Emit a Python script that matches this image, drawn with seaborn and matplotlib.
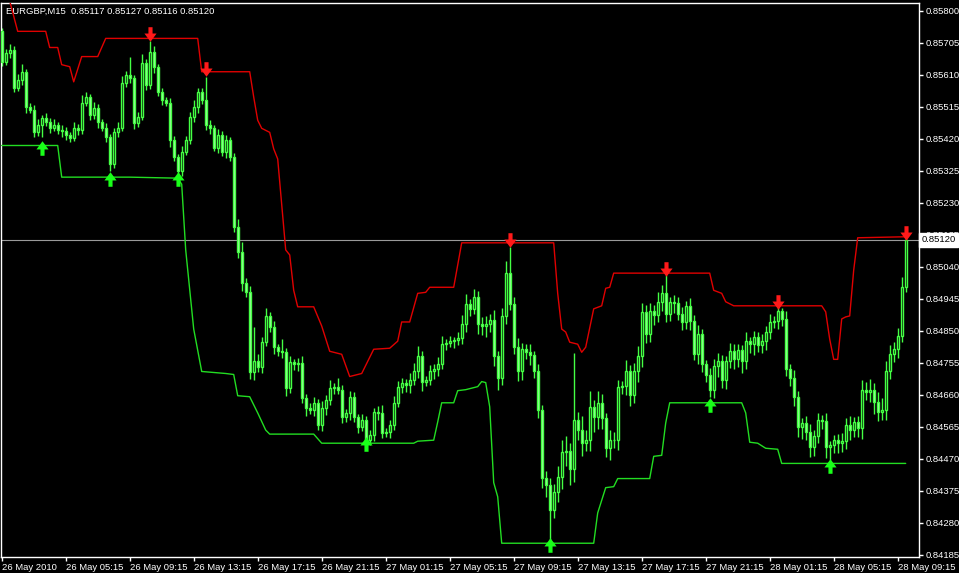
import numpy as np
import pandas as pd
import matplotlib
matplotlib.use("Agg")
import matplotlib.pyplot as plt
import matplotlib.transforms as mtransforms
from matplotlib.path import Path
import seaborn as sns

sns.set_style("dark", {"axes.facecolor": "black", "figure.facecolor": "black",
                       "axes.edgecolor": "white", "xtick.color": "white",
                       "ytick.color": "white", "text.color": "white"})
plt.rcParams['font.family'] = ['Liberation Sans', 'DejaVu Sans']

# EURGBP M15 candles, prices in points (1e-5)
first_open_pts = 85739
close_pts = [85649, 85676, 85685, 85571, 85595, 85619, 85514, 85505, 85439, 85460,
             85481, 85469, 85451, 85460, 85445, 85442, 85430, 85421, 85451, 85445,
             85526, 85544, 85490, 85511, 85469, 85451, 85424, 85345, 85439, 85451,
             85586, 85610, 85601, 85466, 85484, 85646, 85580, 85679, 85634, 85559,
             85535, 85526, 85415, 85366, 85324, 85381, 85415, 85484, 85514, 85559,
             85535, 85460, 85451, 85394, 85430, 85381, 85415, 85366, 85159, 85084,
             84991, 84964, 84726, 84759, 84741, 84816, 84894, 84861, 84801, 84789,
             84786, 84681, 84756, 84750, 84753, 84651, 84621, 84615, 84636, 84570,
             84621, 84645, 84681, 84684, 84675, 84594, 84606, 84654, 84594, 84564,
             84585, 84525, 84540, 84609, 84606, 84546, 84549, 84570, 84636, 84684,
             84696, 84690, 84705, 84729, 84774, 84699, 84705, 84729, 84735, 84750,
             84810, 84813, 84819, 84822, 84828, 84870, 84930, 84915, 84949, 84870,
             84864, 84870, 84882, 84774, 84711, 84894, 85021, 84930, 84801, 84729,
             84795, 84786, 84777, 84729, 84615, 84414, 84393, 84318, 84372, 84417,
             84489, 84492, 84438, 84585, 84555, 84516, 84525, 84624, 84594, 84636,
             84591, 84501, 84525, 84525, 84684, 84687, 84729, 84660, 84729, 84774,
             84906, 84840, 84909, 84897, 84936, 84961, 84900, 84936, 84933, 84900,
             84876, 84924, 84879, 84780, 84840, 84750, 84720, 84675, 84744, 84759,
             84705, 84759, 84789, 84765, 84792, 84759, 84819, 84810, 84831, 84807,
             84819, 84846, 84876, 84879, 84909, 84885, 84735, 84711, 84654, 84564,
             84576, 84549, 84504, 84537, 84585, 84582, 84504, 84510, 84525, 84516,
             84522, 84570, 84555, 84579, 84561, 84675, 84669, 84675, 84639, 84609,
             84615, 84729, 84780, 84795, 84834, 84979, 85120]
upper_wick_pts = [9, 12, 15, 9, 18, 24, 9, 12, 15, 18,
                  9, 15, 12, 18, 9, 15, 12, 9, 18, 12,
                  24, 15, 9, 18, 12, 9, 15, 9, 12, 18,
                  21, 12, 54, 9, 15, 27, 12, 30, 15, 9,
                  12, 9, 15, 12, 9, 18, 12, 15, 21, 12,
                  12, 69, 15, 9, 18, 12, 15, 9, 12, 24,
                  30, 15, 18, 102, 21, 15, 24, 12, 18, 9,
                  36, 12, 18, 9, 15, 21, 12, 15, 18, 12,
                  21, 15, 24, 12, 27, 15, 12, 18, 15, 9,
                  18, 12, 15, 12, 18, 24, 12, 15, 21, 18,
                  15, 12, 18, 24, 30, 15, 12, 18, 15, 21,
                  24, 12, 15, 9, 18, 27, 30, 15, 24, 18,
                  21, 24, 18, 30, 15, 24, 36, 78, 21, 27,
                  18, 15, 24, 12, 21, 15, 18, 21, 24, 30,
                  36, 45, 24, 200, 24, 42, 30, 48, 21, 36,
                  27, 15, 30, 24, 21, 15, 33, 18, 24, 30,
                  27, 21, 24, 18, 30, 24, 54, 15, 21, 18,
                  21, 15, 24, 18, 27, 15, 12, 18, 21, 24,
                  18, 15, 24, 21, 18, 15, 27, 12, 18, 15,
                  21, 18, 24, 15, 15, 9, 24, 15, 21, 18,
                  15, 21, 24, 18, 21, 15, 24, 12, 15, 18,
                  24, 21, 27, 15, 18, 30, 24, 33, 21, 30,
                  36, 30, 27, 21, 24, 30, 6]
lower_wick_pts = [12, 9, 15, 12, 9, 15, 18, 9, 15, 12,
                  36, 12, 15, 9, 12, 18, 15, 12, 9, 15,
                  12, 9, 15, 12, 18, 9, 15, 21, 12, 15,
                  9, 12, 15, 18, 12, 9, 15, 12, 18, 12,
                  15, 9, 18, 12, 12, 15, 9, 12, 15, 18,
                  12, 15, 18, 9, 15, 12, 18, 12, 15, 18,
                  24, 15, 18, 21, 15, 18, 12, 15, 21, 15,
                  18, 24, 15, 18, 21, 15, 24, 12, 18, 15,
                  18, 21, 15, 18, 12, 18, 15, 21, 15, 18,
                  12, 9, 15, 18, 21, 15, 12, 18, 15, 12,
                  18, 21, 24, 15, 18, 27, 12, 15, 21, 18,
                  15, 18, 12, 21, 15, 18, 24, 21, 15, 30,
                  27, 33, 24, 30, 36, 21, 24, 18, 21, 27,
                  24, 21, 30, 18, 24, 30, 36, 90, 24, 30,
                  36, 42, 45, 36, 30, 39, 24, 33, 45, 36,
                  33, 27, 36, 24, 30, 21, 27, 33, 24, 30,
                  33, 27, 24, 30, 21, 27, 24, 21, 30, 18,
                  24, 21, 27, 18, 30, 24, 21, 21, 24, 30,
                  24, 27, 21, 30, 24, 36, 24, 27, 33, 21,
                  24, 27, 21, 18, 24, 21, 18, 24, 27, 30,
                  36, 24, 30, 27, 21, 24, 33, 39, 24, 30,
                  27, 24, 30, 21, 27, 33, 24, 30, 36, 27,
                  24, 30, 21, 24, 27, 18, 15]

# channel lines (bar index, points)
red_bars = [2, 4, 11, 12, 14, 15, 17, 18, 20, 24, 26, 49, 50, 62, 63, 64, 65, 67, 68, 69,
            70, 71, 72, 73, 74, 78, 80, 82, 85, 87, 90, 93, 97, 99, 100, 102, 104, 106, 107, 113,
            115, 138, 139, 140, 141, 142, 144, 145, 146, 148, 150, 151, 152, 153, 177, 178, 180, 181, 183, 205,
            206, 207, 208, 209, 210, 211, 212, 213, 214, 226]
red_pts = [85829, 85739, 85739, 85691, 85691, 85640, 85634, 85589, 85664, 85664, 85718, 85718, 85619, 85619, 85544, 85475, 85451, 85439, 85390, 85360,
           85225, 85090, 85075, 84970, 84921, 84921, 84864, 84789, 84780, 84714, 84723, 84795, 84798, 84819, 84876, 84876, 84961, 84964, 84979, 84979,
           85111, 85111, 84961, 84855, 84846, 84816, 84810, 84786, 84801, 84915, 84924, 84976, 84979, 85021, 85021, 84970, 84961, 84936, 84924, 84924,
           84906, 84825, 84765, 84765, 84885, 84891, 84894, 85030, 85126, 85129]
green_bars = [0, 14, 15, 32, 44, 45, 46, 48, 50, 56, 58, 59, 62, 64, 66, 67, 78, 80, 103, 104,
              108, 109, 110, 113, 114, 116, 119, 120, 121, 122, 123, 124, 125, 148, 149, 151, 153, 154, 162, 163,
              165, 166, 167, 185, 186, 187, 189, 191, 194, 195, 226]
green_pts = [85400, 85400, 85306, 85306, 85303, 85285, 85090, 84855, 84729, 84723, 84720, 84657, 84654, 84606, 84555, 84543, 84543, 84516, 84516, 84522,
             84525, 84579, 84636, 84636, 84672, 84675, 84684, 84699, 84696, 84624, 84399, 84357, 84219, 84219, 84309, 84384, 84387, 84411, 84411, 84477,
             84480, 84576, 84636, 84636, 84606, 84519, 84516, 84501, 84498, 84456, 84456]

sell_bars = [37, 51, 127, 166, 194, 226]
sell_pts = [85730, 85628, 85120, 85033, 84936, 85141]
buy_bars = [10, 27, 44, 91, 137, 177, 207]
buy_pts = [85394, 85300, 85300, 84513, 84213, 84630, 84447]

ytick_labels = ["0.85800", "0.85705", "0.85610", "0.85515", "0.85420", "0.85325",
                "0.85230", "0.85135", "0.85040", "0.84945", "0.84850", "0.84755",
                "0.84660", "0.84565", "0.84470", "0.84375", "0.84280", "0.84185"]
xtick_bars = [0, 16, 32, 48, 64, 80, 96, 112, 128, 144, 160, 176, 192, 208, 224]
xtick_labels = ["26 May 2010", "26 May 05:15", "26 May 09:15", "26 May 13:15",
                "26 May 17:15", "26 May 21:15", "27 May 01:15", "27 May 05:15",
                "27 May 09:15", "27 May 13:15", "27 May 17:15", "27 May 21:15",
                "28 May 01:15", "28 May 05:15", "28 May 09:15"]
title = "EURGBP,M15  0.85117 0.85127 0.85116 0.85120"
last_price = 0.85120

pt = 1e-5
close = np.array(close_pts) * pt
open_ = np.concatenate([[first_open_pts * pt], close[:-1]])
df = pd.DataFrame({"bar": np.arange(len(close)), "open": open_, "close": close})
df["high"] = df[["open", "close"]].max(axis=1) + np.array(upper_wick_pts) * pt
df["low"] = df[["open", "close"]].min(axis=1) - np.array(lower_wick_pts) * pt

fig = plt.figure(figsize=(9.59, 5.73), dpi=100)
ax = fig.add_axes([1 / 959, 16.3 / 573, 918 / 959, 554 / 573])
ax.set_facecolor("black")

candle_edge = "#44ff44"
ax.vlines(df["bar"], df["low"], df["high"], color=candle_edge, lw=1, zorder=2)
up = df["close"] >= df["open"]
ax.bar(df["bar"][up], (df["close"] - df["open"])[up], bottom=df["open"][up],
       width=0.6, facecolor="black", edgecolor=candle_edge, linewidth=1, zorder=3)
ax.bar(df["bar"][~up], (df["open"] - df["close"])[~up], bottom=df["close"][~up],
       width=0.6, facecolor="#b8f8b8", edgecolor=candle_edge, linewidth=1, zorder=3)

sns.lineplot(x=red_bars, y=np.array(red_pts) * pt, color="#e00000", linewidth=1,
             estimator=None, sort=False, ax=ax, zorder=4)
sns.lineplot(x=green_bars, y=np.array(green_pts) * pt, color="#22dd22", linewidth=1,
             estimator=None, sort=False, ax=ax, zorder=4)

ax.axhline(last_price, color="#9a9a9a", lw=0.8, zorder=1)

down_arrow = Path([(-0.17, 0.6), (0.17, 0.6), (0.17, 0.08), (0.5, 0.08), (0, -0.6),
                   (-0.5, 0.08), (-0.17, 0.08), (-0.17, 0.6)], closed=True)
up_arrow = Path([(-0.17, -0.6), (0.17, -0.6), (0.17, -0.08), (0.5, -0.08), (0, 0.6),
                 (-0.5, -0.08), (-0.17, -0.08), (-0.17, -0.6)], closed=True)
ax.plot(sell_bars, np.array(sell_pts) * pt, ls="none", marker=down_arrow, ms=10.5,
        color="#ff1a1a", mew=0, zorder=6)
ax.plot(buy_bars, np.array(buy_pts) * pt, ls="none", marker=up_arrow, ms=10.5,
        color="#19ff19", mew=0, zorder=6)

ax.set_xlim(-0.175, 229.325)
ax.set_ylim(0.84179, 0.85824)
ax.grid(False)
ax.set_xlabel("")
ax.set_ylabel("")

ax.yaxis.tick_right()
ax.set_yticks([float(s) for s in ytick_labels])
ax.set_yticklabels(ytick_labels)
ax.set_xticks(xtick_bars)
ax.set_xticklabels(xtick_labels, ha="left")
ax.tick_params(axis="y", which="both", right=True, left=False, length=3, width=1,
               pad=2, labelsize=6.8, colors="white", direction="out")
ax.tick_params(axis="x", which="both", bottom=True, length=3, width=1,
               pad=1.5, labelsize=6.8, colors="white", direction="out")
for s in ax.spines.values():
    s.set_color("white")
    s.set_linewidth(1)

ax.text(0.0054, 0.984, title, transform=ax.transAxes, color="white",
        fontsize=6.8, va="center", ha="left")

# last price box drawn over the axis labels, as in the terminal
trans = mtransforms.blended_transform_factory(ax.transAxes, ax.transData)
ax.text(1.003, last_price, "0.85120", transform=trans, color="black", fontsize=6.8,
        va="center", ha="left", clip_on=False, zorder=10,
        bbox=dict(boxstyle="square,pad=0.25", fc="white", ec="white"))

fig.savefig("out.png", dpi=100, facecolor="black")
